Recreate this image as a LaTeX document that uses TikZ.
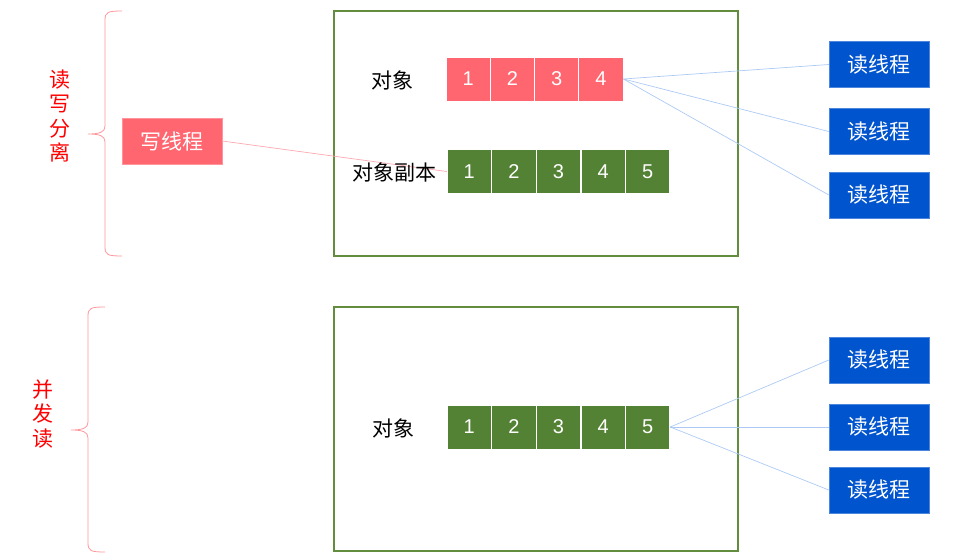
\documentclass[tikz,border=0pt]{standalone}
\usepackage{fontspec}
\setmainfont{Noto Sans CJK SC}
\newfontfamily\digitfont{Liberation Sans}
\usetikzlibrary{positioning}
\definecolor{cellred}{RGB}{255,102,112}
\definecolor{cellgreen}{RGB}{84,130,53}
\definecolor{framegreen}{RGB}{98,140,62}
\definecolor{threadblue}{RGB}{0,84,206}
\definecolor{linkblue}{RGB}{172,202,245}
\definecolor{linkred}{RGB}{255,168,175}
\definecolor{bracered}{RGB}{255,150,155}
\newcommand{\cnfont}{\fontsize{21}{24.5}\selectfont}

\begin{document}
\begin{tikzpicture}[x=1pt, y=-1pt,
    cell/.style={draw=white, line width=0.8pt, minimum width=44.3pt, minimum height=44pt,
                 inner sep=0pt, text=white, font=\digitfont\fontsize{20}{24}\selectfont},
    thread/.style={fill=threadblue, draw=threadblue!70, minimum width=100pt, minimum height=46pt,
                   inner sep=0pt, text=white, font=\cnfont},
    link/.style={linkblue, line width=0.7pt},
    brace/.style={bracered, line width=0.8pt}]
  \useasboundingbox (0,0) rectangle (961,559);

  % frames
  \draw[framegreen, line width=2pt] (334,11) rectangle (738,256);
  \draw[framegreen, line width=2pt] (334,307) rectangle (738,551);

  % braces and their labels
  \draw[brace] (122,11) .. controls (108,11) and (105,12) .. (105,20) -- (105,126)
     .. controls (105,132) and (100,134) .. (88,134) .. controls (100,134) and (105,136) .. (105,142)
     -- (105,247) .. controls (105,255) and (108,256) .. (122,256);
  \draw[brace] (105,307) .. controls (91,307) and (88,308) .. (88,316) -- (88,422)
     .. controls (88,428) and (83,430) .. (71,430) .. controls (83,430) and (88,432) .. (88,438)
     -- (88,543) .. controls (88,551) and (91,552) .. (105,552);
  \node[text=red, font=\cnfont, align=center, inner sep=0pt] (rwsplit) at (60,116) {读\\写\\分\\离};
  \node[text=red, font=\cnfont, align=center, inner sep=0pt] (concread) at (43,414) {并\\发\\读};

  % top: write thread and copy
  \node[fill=cellred, draw=cellred!70, minimum width=100pt, minimum height=46pt, inner sep=0pt,
        text=white, font=\cnfont] (writer) at (172,141) {写线程};
  \foreach \i in {1,...,4}
    \node[cell, fill=cellred] (r\i) at ({468.1+44.25*(\i-1)},79) {\i};
  \foreach \i in {1,...,5}
    \node[cell, fill=cellgreen] (c\i) at ({469.3+44.6*(\i-1)},171.5) {\i};
  \draw[linkred, line width=0.7pt] (writer.east) -- (c1.west);
  \node[font=\cnfont] (objtop) at (392,80) {对象};
  \node[font=\cnfont] (copytop) at (394,172) {对象副本};

  \node[thread] (rt1) at (879,64.5) {读线程};
  \node[thread] (rt2) at (879,131.5) {读线程};
  \node[thread] (rt3) at (879,195) {读线程};
  \foreach \i in {1,2,3}
    \draw[link] (r4.east) -- (rt\i.west);

  % bottom: concurrent read
  \foreach \i in {1,...,5}
    \node[cell, fill=cellgreen] (s\i) at ({469.3+44.6*(\i-1)},427) {\i};
  \node[font=\cnfont] (objbot) at (393,428) {对象};

  \node[thread] (rb1) at (879,360) {读线程};
  \node[thread] (rb2) at (879,427) {读线程};
  \node[thread] (rb3) at (879,490) {读线程};
  \foreach \i in {1,2,3}
    \draw[link] (s5.east) -- (rb\i.west);
\end{tikzpicture}
\end{document}
